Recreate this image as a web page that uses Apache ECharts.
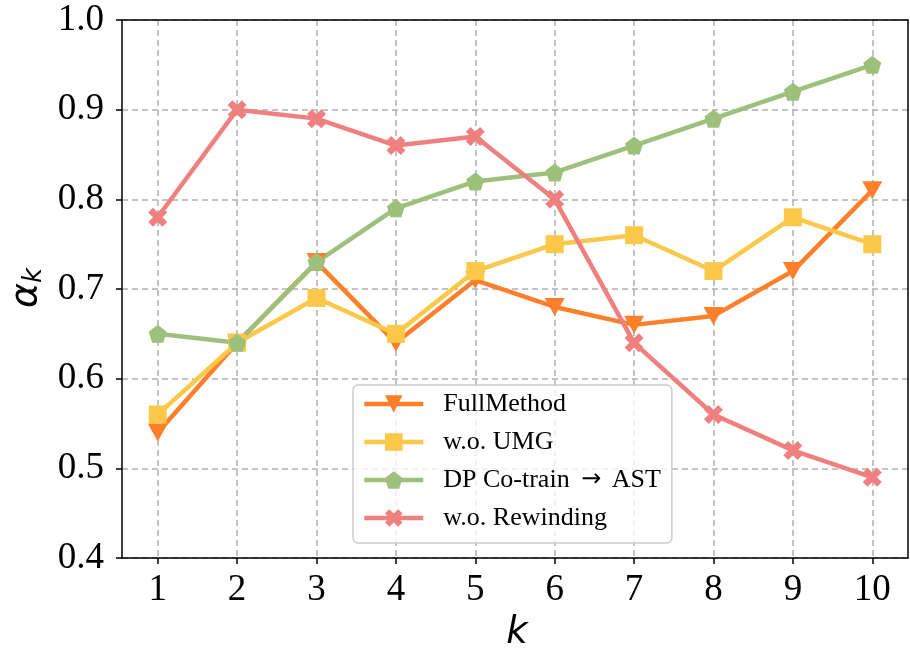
<!DOCTYPE html>
<html>
<head>
<meta charset="utf-8">
<script src="https://cdn.jsdelivr.net/npm/echarts@6/dist/echarts.min.js"></script>
<style>
  html, body { margin: 0; padding: 0; background: #ffffff; }
  #chart { width: 910px; height: 651px; }
</style>
</head>
<body>
<div id="chart"></div>
<script>
// k = 1..10
const kValues = [1, 2, 3, 4, 5, 6, 7, 8, 9, 10]
const fullMethod = [0.54, 0.64, 0.73, 0.64, 0.71, 0.68, 0.66, 0.67, 0.72, 0.81]
const woUMG = [0.56, 0.64, 0.69, 0.65, 0.72, 0.75, 0.76, 0.72, 0.78, 0.75]
const dpCotrain = [0.65, 0.64, 0.73, 0.79, 0.82, 0.83, 0.86, 0.89, 0.92, 0.95]
const woRewinding = [0.78, 0.90, 0.89, 0.86, 0.87, 0.80, 0.64, 0.56, 0.52, 0.49]
const seriesNames = ['FullMethod', 'w.o. UMG', 'DP Co-train \u2192 AST', 'w.o. Rewinding']

const serif = '"Liberation Serif", "Times New Roman", serif'
const sans = '"DejaVu Sans", sans-serif'
const pentagon = 'path://M0,-1 L0.951,-0.309 L0.588,0.809 L-0.588,0.809 L-0.951,-0.309 Z'
const thickX = 'path://M-1,-0.5 L-0.5,-1 L0,-0.5 L0.5,-1 L1,-0.5 L0.5,0 L1,0.5 L0.5,1 L0,0.5 L-0.5,1 L-1,0.5 L-0.5,0 Z'

const pairs = (ys) => kValues.map((k, i) => [k, ys[i]])

function lineSeries(name, ys, color, symbol, size, rotate) {
  return {
    name,
    type: 'line',
    data: pairs(ys),
    symbol,
    symbolSize: size,
    symbolRotate: rotate || 0,
    showAllSymbol: true,
    lineStyle: { color, width: 4.5 },
    itemStyle: { color, borderWidth: 0 },
    emphasis: { disabled: true },
    z: 3,
  }
}

const chart = echarts.init(document.getElementById('chart'))

// frame axes only draw the top/right spines
const frameAxis = {
  axisLine: { show: true, lineStyle: { color: '#000', width: 1.5 } },
  axisTick: { show: false },
  axisLabel: { show: false },
  splitLine: { show: false },
}
const gridLine = { show: true, lineStyle: { color: '#b0b0b0', width: 1.5, type: [6, 4] } }

chart.setOption({
  animation: false,
  grid: { left: 122, top: 20, right: 2, bottom: 93 },
  xAxis: [
    {
      type: 'value',
      min: 0.55,
      max: 10.45,
      axisLine: { lineStyle: { color: '#000', width: 1.5 } },
      axisTick: { show: true, length: 6, customValues: kValues, lineStyle: { color: '#000', width: 1.5 } },
      axisLabel: { customValues: kValues, margin: 14, color: '#000', fontFamily: serif, fontSize: 37 },
      splitLine: gridLine,
    },
    Object.assign({ type: 'value', position: 'top', min: 0.55, max: 10.45 }, frameAxis),
  ],
  yAxis: [
    {
      type: 'value',
      min: 0.4,
      max: 1.0,
      interval: 0.1,
      axisLine: { show: true, lineStyle: { color: '#000', width: 1.5 } },
      axisTick: { show: true, length: 6, lineStyle: { color: '#000', width: 1.5 } },
      axisLabel: {
        margin: 18,
        color: '#000',
        fontFamily: serif,
        fontSize: 37,
        formatter: (v) => v.toFixed(1),
      },
      splitLine: gridLine,
    },
    Object.assign({ type: 'value', position: 'right', min: 0.4, max: 1.0 }, frameAxis),
  ],
  legend: {
    orient: 'vertical',
    left: 353,
    top: 385,
    data: seriesNames,
    itemWidth: 59,
    itemHeight: 22,
    itemGap: 12,
    padding: [6, 11, 12, 9],
    backgroundColor: 'rgba(255,255,255,0.8)',
    borderColor: '#cccccc',
    borderWidth: 1.5,
    borderRadius: 5,
    lineStyle: { width: 4.5 },
    formatter: (name) => name.replace('\u2192', '{ar|\u2192}'),
    textStyle: {
      color: '#000',
      fontFamily: serif,
      fontSize: 26,
      lineHeight: 22,
      padding: [0, 0, 0, 15],
      rich: {
        ar: { fontFamily: sans, fontSize: 24, color: '#000', padding: [0, 4, 0, 5] },
      },
    },
    z: 10,
  },
  graphic: [
    {
      type: 'text',
      x: 26,
      y: 288,
      rotation: Math.PI / 2,
      style: {
        text: '{a|\u03b1}{s|k}',
        textAlign: 'center',
        textVerticalAlign: 'middle',
        rich: {
          a: { fontFamily: sans, fontStyle: 'italic', fontSize: 38, fill: '#000' },
          s: { fontFamily: sans, fontStyle: 'italic', fontSize: 26, fill: '#000', padding: [16, 0, 0, 0] },
        },
      },
    },
    {
      type: 'text',
      x: 517,
      y: 633,
      style: {
        text: 'k',
        textAlign: 'center',
        textVerticalAlign: 'middle',
        fontFamily: sans,
        fontStyle: 'italic',
        fontSize: 37,
        fill: '#000',
      },
    },
  ],
  series: [
    lineSeries(seriesNames[0], fullMethod, '#ff7f2a', 'triangle', [20, 18], 180),
    lineSeries(seriesNames[1], woUMG, '#fcc84a', 'rect', 18),
    lineSeries(seriesNames[2], dpCotrain, '#9dc17b', pentagon, 18),
    lineSeries(seriesNames[3], woRewinding, '#f08080', thickX, 19),
  ],
})
</script>
</body>
</html>
